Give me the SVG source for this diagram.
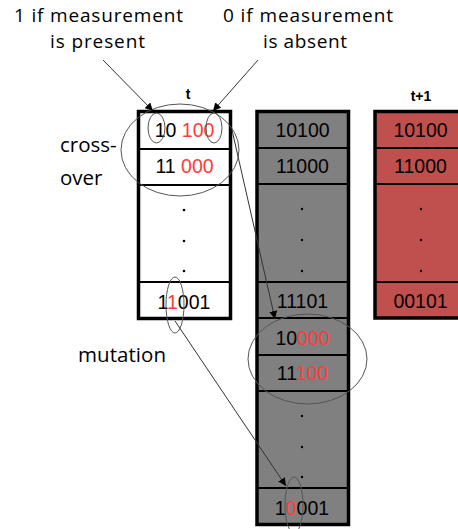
<svg xmlns="http://www.w3.org/2000/svg" width="458" height="529" viewBox="0 0 458 529">
<defs>
<marker id="ah" viewBox="0 0 10 10" refX="10" refY="5" markerWidth="8" markerHeight="8" markerUnits="userSpaceOnUse" orient="auto">
<path d="M0,0 L10,5 L0,10 z" fill="#000"/>
</marker>
<style>
.lbl{font-family:"Open Sans","Liberation Sans",sans-serif;font-size:20.5px;fill:#000}
.top{font-size:19px}
.num{font-family:"Liberation Sans",Arial,sans-serif;font-size:19.5px;fill:#000;text-anchor:middle}
.hd{font-family:"Liberation Sans",Arial,sans-serif;font-size:14px;font-weight:bold;fill:#000;text-anchor:middle}
.r{fill:#FF3B3B}
.box{stroke:#000;stroke-width:3.5}
.div{stroke:#000;stroke-width:2}
.dot{fill:#000}
.ell{fill:none;stroke:#555;stroke-width:1}
.con{stroke:#333;stroke-width:1;fill:none;marker-end:url(#ah)}
</style>
</defs>
<rect width="458" height="529" fill="#fff"/>

<g id="labels">
<text class="lbl top" x="14" y="22" textLength="169" lengthAdjust="spacing">1 if measurement</text>
<text class="lbl top" x="50" y="48" textLength="95" lengthAdjust="spacing">is present</text>
<text class="lbl top" x="223" y="22" textLength="170" lengthAdjust="spacing">0 if measurement</text>
<text class="lbl top" x="263" y="48" textLength="84" lengthAdjust="spacing">is absent</text>
<text class="lbl" x="60" y="152">cross-</text>
<text class="lbl" x="60" y="185">over</text>
<text class="lbl" x="78" y="362" textLength="88" lengthAdjust="spacing">mutation</text>
<text class="hd" x="188" y="99">t</text>
<text class="hd" x="421" y="101">t+1</text>
</g>

<g id="col-t">
<rect class="box" x="138.5" y="111.5" width="92" height="207" fill="#fff"/>
<line class="div" x1="138.5" y1="149" x2="230.5" y2="149"/>
<line class="div" x1="138.5" y1="185" x2="230.5" y2="185"/>
<line class="div" x1="138.5" y1="282" x2="230.5" y2="282"/>
<circle class="dot" cx="184" cy="210" r="1.3"/>
<circle class="dot" cx="184" cy="241" r="1.3"/>
<circle class="dot" cx="184" cy="271" r="1.3"/>
<text class="num" x="184.5" y="137">10 <tspan class="r">100</tspan></text>
<text class="num" x="184.5" y="173">11 <tspan class="r">000</tspan></text>
<text class="num" x="184" y="309">1<tspan class="r">1</tspan>001</text>
</g>

<g id="col-mid">
<rect class="box" x="257" y="111.5" width="91.5" height="413" fill="#808080"/>
<line class="div" x1="257" y1="148" x2="348.5" y2="148"/>
<line class="div" x1="257" y1="184" x2="348.5" y2="184"/>
<line class="div" x1="257" y1="282" x2="348.5" y2="282"/>
<line class="div" x1="257" y1="318" x2="348.5" y2="318"/>
<line class="div" x1="257" y1="355" x2="348.5" y2="355"/>
<line class="div" x1="257" y1="391" x2="348.5" y2="391"/>
<line class="div" x1="257" y1="488" x2="348.5" y2="488"/>
<circle class="dot" cx="302" cy="209" r="1.2"/>
<circle class="dot" cx="302" cy="240" r="1.2"/>
<circle class="dot" cx="302" cy="271" r="1.2"/>
<circle class="dot" cx="302" cy="416" r="1.2"/>
<circle class="dot" cx="302" cy="447" r="1.2"/>
<circle class="dot" cx="302" cy="477" r="1.2"/>
<text class="num" x="302.5" y="137">10100</text>
<text class="num" x="302.5" y="173">11000</text>
<text class="num" x="302.5" y="307.5">11101</text>
<text class="num" x="302.5" y="345">10<tspan class="r">000</tspan></text>
<text class="num" x="302.5" y="380">11<tspan class="r">100</tspan></text>
<text class="num" x="302" y="515">1<tspan class="r">0</tspan>001</text>
</g>

<g id="col-t1">
<rect class="box" x="375" y="111.5" width="92" height="206.5" fill="#C0504D"/>
<line class="div" x1="375" y1="148" x2="467" y2="148"/>
<line class="div" x1="375" y1="184" x2="467" y2="184"/>
<line class="div" x1="375" y1="282" x2="467" y2="282"/>
<circle class="dot" cx="421" cy="209" r="1.2"/>
<circle class="dot" cx="421" cy="240" r="1.2"/>
<circle class="dot" cx="421" cy="271" r="1.2"/>
<text class="num" x="420.5" y="137">10100</text>
<text class="num" x="420.5" y="173">11000</text>
<text class="num" x="420.5" y="307.5">00101</text>
</g>

<g id="ellipses">
<ellipse class="ell" cx="180" cy="150" rx="59" ry="46"/>
<ellipse class="ell" cx="156.5" cy="128" rx="8.5" ry="15"/>
<ellipse class="ell" cx="214" cy="128" rx="8" ry="15"/>
<ellipse class="ell" cx="175" cy="305" rx="9" ry="28"/>
<ellipse class="ell" cx="307.5" cy="359" rx="59.5" ry="45"/>
<ellipse class="ell" cx="294" cy="505" rx="9" ry="28"/>
</g>

<g id="connectors">
<line class="con" x1="103" y1="60" x2="153" y2="111"/>
<line class="con" x1="258" y1="60" x2="213" y2="111"/>
<line class="con" x1="232" y1="130" x2="275" y2="319"/>
<line class="con" x1="175" y1="321" x2="286" y2="486"/>
</g>
</svg>
